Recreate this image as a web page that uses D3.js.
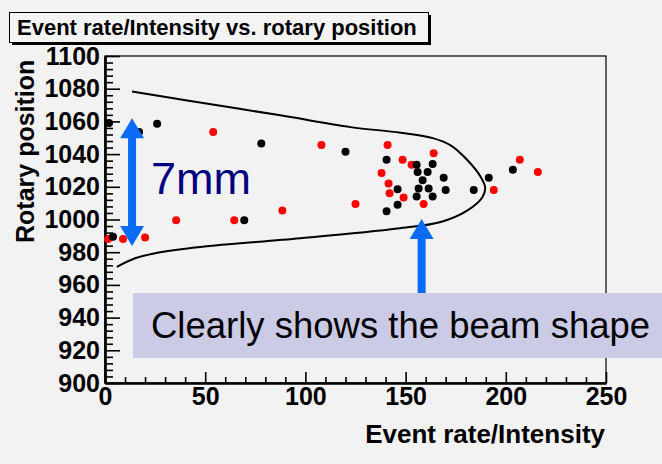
<!DOCTYPE html>
<html>
<head>
<meta charset="utf-8">
<script src="https://cdn.jsdelivr.net/npm/d3@7"></script>
<style>
  body { margin: 0; background: #f2f2f2; }
  text { font-family: Arial, "Liberation Sans", sans-serif; }
</style>
</head>
<body>
<svg width="662" height="464"></svg>
<script>
// values: [event rate/intensity, rotary position]
const blackPoints = [
    [2, 1059], [26, 1058.5], [17, 1053.5], [78, 1046.5], [69.5, 999.5], [4, 989.5],
    [120, 1041.5], [140.5, 1036.5], [169, 1025.5], [170, 1018], [146, 1018.5], [146, 1009],
    [140.5, 1005], [184, 1018], [191.5, 1025.5], [203.5, 1030.5],
    [155.5, 1033.5], [163.5, 1034], [156, 1029], [161, 1029], [158.5, 1024],
    [156.5, 1019], [161.5, 1019], [155.5, 1014], [163.5, 1014]
]
const redPoints = [
    [1.5, 988], [9, 988], [20, 989], [54, 1053.5], [35.5, 999.5], [64.5, 999.5],
    [88.5, 1005.5], [108, 1045.5], [141, 1045.5], [148.5, 1036.5], [153, 1033.5],
    [164, 1040.5], [138, 1028.5], [141.5, 1022], [142, 1016], [149, 1013.5],
    [125, 1009.5], [159, 1009.5], [194, 1018], [207, 1036.5], [216, 1029]
]
// hand-drawn beam outline
const beamOutline = [
    [13.5, 1078.3], [41, 1072.8], [87.5, 1063.7], [122.5, 1056.5], [147.5, 1053.1],
    [164, 1049.6], [172.5, 1045.3], [180.9, 1036.2], [187.5, 1026], [189.7, 1019.5],
    [188.4, 1013.8], [180.9, 1005.6], [167.5, 998.5], [145.9, 994.5], [97.5, 988.5],
    [47.5, 983.2], [25, 979.4], [15, 976.3], [5.9, 971]
]
const xMajor = [0, 50, 100, 150, 200, 250]
const yMajor = [900, 920, 940, 960, 980, 1000, 1020, 1040, 1060, 1080, 1100]
const titleText = "Event rate/Intensity vs. rotary position"
const xLabel = "Event rate/Intensity"
const yLabel = "Rotary position"

const svg = d3.select('svg')
const x = d3.scaleLinear().domain([0, 250]).range([105, 606])
const y = d3.scaleLinear().domain([900, 1100]).range([383, 56])

const xMinor = d3.range(0, 251, 10).filter(v => v % 50 !== 0)
const yMinor = d3.range(900, 1101, 4).filter(v => v % 20 !== 0)

// frame
svg.append('rect')
    .attr('x', x(0)).attr('y', y(1100))
    .attr('width', x(250) - x(0)).attr('height', y(900) - y(1100))
    .attr('fill', '#f2f2f2').attr('stroke', '#000').attr('stroke-width', 1.2)

// minor ticks
svg.append('g').attr('transform', `translate(0,${y(900)})`)
    .call(d3.axisBottom(x).tickValues(xMinor).tickSizeInner(-6).tickSizeOuter(0).tickFormat(''))
svg.append('g').attr('transform', `translate(${x(0)},0)`)
    .call(d3.axisLeft(y).tickValues(yMinor).tickSizeInner(-8).tickSizeOuter(0).tickFormat(''))

// major ticks + labels
svg.append('g').attr('transform', `translate(0,${y(900)})`)
    .call(d3.axisBottom(x).tickValues(xMajor).tickSizeInner(-11).tickSizeOuter(0).tickPadding(4).tickFormat(d3.format('d')))
svg.append('g').attr('transform', `translate(${x(0)},0)`)
    .call(d3.axisLeft(y).tickValues(yMajor).tickSizeInner(-15).tickSizeOuter(0).tickPadding(5).tickFormat(d3.format('d')))

svg.selectAll('.domain').attr('stroke', '#000').attr('stroke-width', 2.2)
svg.selectAll('.tick line').attr('stroke', '#000').attr('stroke-width', 1.6)
svg.selectAll('.tick text')
    .attr('font-family', 'Arial, "Liberation Sans", sans-serif')
    .attr('font-size', 25).attr('font-weight', 'bold').attr('fill', '#000')

// axis titles
svg.append('text')
    .attr('x', 605).attr('y', 443)
    .attr('text-anchor', 'end')
    .attr('font-size', 26).attr('font-weight', 'bold')
    .text(xLabel)
svg.append('text')
    .attr('transform', 'translate(34,243) rotate(-90)')
    .attr('text-anchor', 'start')
    .attr('font-size', 25).attr('font-weight', 'bold')
    .text(yLabel)

// beam outline
svg.append('path')
    .datum(beamOutline)
    .attr('d', d3.line().x(d => x(d[0])).y(d => y(d[1])).curve(d3.curveCatmullRom))
    .attr('fill', 'none').attr('stroke', '#000').attr('stroke-width', 2)

// points
svg.append('g').selectAll('circle')
    .data(redPoints)
    .enter()
    .append('circle')
    .attr('cx', d => x(d[0])).attr('cy', d => y(d[1]))
    .attr('r', 4).attr('fill', '#ff0000')
svg.append('g').selectAll('circle')
    .data(blackPoints)
    .enter()
    .append('circle')
    .attr('cx', d => x(d[0])).attr('cy', d => y(d[1]))
    .attr('r', 4).attr('fill', '#000')

// annotations
const blue = '#0a6cf5'
function arrowHead(tx, ty, dir) {
    // dir = -1 points up, 1 points down
    return `M${tx},${ty} L${tx - 12},${ty - dir * 20} L${tx + 12},${ty - dir * 20} Z`
}
const ax = x(13.5), aTop = y(1062), aBot = y(983.8)
svg.append('rect').attr('x', ax - 4).attr('y', aTop + 18).attr('width', 8).attr('height', aBot - aTop - 36).attr('fill', blue)
svg.append('path').attr('d', arrowHead(ax, aTop, -1)).attr('fill', blue)
svg.append('path').attr('d', arrowHead(ax, aBot, 1)).attr('fill', blue)

svg.append('text')
    .attr('x', 151).attr('y', 194)
    .attr('font-size', 45).attr('fill', '#000080')
    .text('7mm')

const bx = x(158), bTop = y(1000.3)
svg.append('rect').attr('x', bx - 4).attr('y', bTop + 18).attr('width', 8).attr('height', 300 - bTop - 18).attr('fill', blue)
svg.append('path').attr('d', arrowHead(bx, bTop, -1)).attr('fill', blue)

svg.append('rect')
    .attr('x', 133).attr('y', 293).attr('width', 540).attr('height', 65)
    .attr('fill', '#cbcbe6')
svg.append('text')
    .attr('x', 151).attr('y', 338)
    .attr('font-size', 36.5).attr('fill', '#000')
    .text('Clearly shows the beam shape')

// title box
svg.append('rect').attr('x', 12).attr('y', 15).attr('width', 419).attr('height', 30).attr('fill', '#000')
svg.append('rect').attr('x', 9.5).attr('y', 12.5).attr('width', 419).attr('height', 30)
    .attr('fill', '#f4f4f4').attr('stroke', '#000').attr('stroke-width', 1)
svg.append('text')
    .attr('x', 17).attr('y', 35)
    .attr('font-size', 22).attr('font-weight', 'bold')
    .text(titleText)
</script>
</body>
</html>
